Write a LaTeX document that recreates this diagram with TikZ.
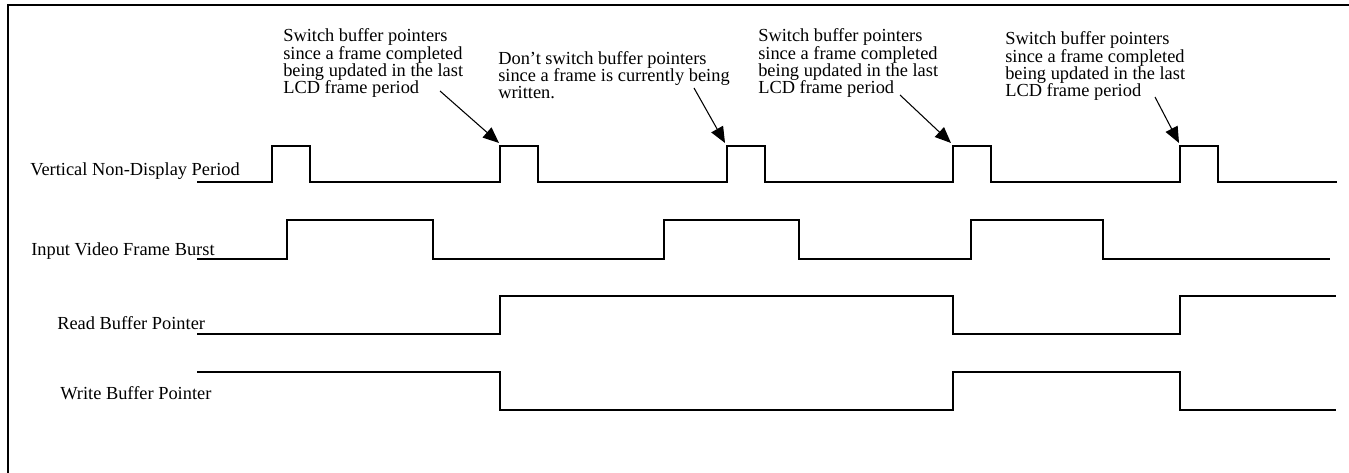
\documentclass[tikz,border=0pt]{standalone}
\usepackage{fontspec}
\setmainfont{Liberation Serif}
\usetikzlibrary{arrows.meta}

\begin{document}
\begin{tikzpicture}[x=0.75pt, y=-0.75pt, >={Triangle[length=12pt,width=10pt]},
    sig/.style={line width=2.2pt},
    lbl/.style={anchor=base west, inner sep=0pt, font=\fontsize{13.8}{13}\selectfont},
    note/.style={lbl, align=left},
    pointer/.style={->, line width=0.8pt}]
    \useasboundingbox (0,0) rectangle (1349,473);
    \draw[line width=1.5pt] (8,473) -- (8,5) -- (1349,5);
    % signal names
    \node[lbl] (vnd) at (30,176) {Vertical Non-Display Period};
    \node[lbl] (burst) at (31,256) {Input Video Frame Burst};
    \node[lbl] (rdptr) at (57,330) {Read Buffer Pointer};
    \node[lbl] (wrptr) at (60,400) {Write Buffer Pointer};
    % waveforms
    \draw[sig] (197,182) foreach \x in {272,500,727,953,1180} {
      -- (\x,182) -- (\x,146) -- (\x+38,146) -- (\x+38,182) } -- (1337,182);
    \draw[sig] (197,259) foreach \a/\b in {287/433,664/799,971/1103} {
      -- (\a,259) -- (\a,220) -- (\b,220) -- (\b,259) } -- (1330,259);
    \draw[sig] (197,334) -- (500,334) -- (500,296) -- (953,296) -- (953,334)
      -- (1180,334) -- (1180,296) -- (1336,296);
    \draw[sig] (197,372) -- (500,372) -- (500,410) -- (953,410) -- (953,372)
      -- (1180,372) -- (1180,410) -- (1336,410);
    % notes (base = last line)
    \node[note] (sw1) at (283,94) {Switch buffer pointers\\since a frame completed\\being updated in the last\\LCD frame period};
    \node[note] (nosw) at (498,99) {Don’t switch buffer pointers\\since a frame is currently being\\written.};
    \node[note] (sw2) at (758,94) {Switch buffer pointers\\since a frame completed\\being updated in the last\\LCD frame period};
    \node[note] (sw3) at (1005,97) {Switch buffer pointers\\since a frame completed\\being updated in the last\\LCD frame period};
    \coordinate (s1) at (440,91);
    \coordinate (s2) at (694,88);
    \coordinate (s3) at (900,95);
    \coordinate (s4) at (1155,97);
    \coordinate (e1) at (499,143);
    \coordinate (e2) at (725,143);
    \coordinate (e3) at (951,143);
    \coordinate (e4) at (1179,143);
    \draw[pointer] (s1) -- (e1);
    \draw[pointer] (s2) -- (e2);
    \draw[pointer] (s3) -- (e3);
    \draw[pointer] (s4) -- (e4);
\end{tikzpicture}
\end{document}
